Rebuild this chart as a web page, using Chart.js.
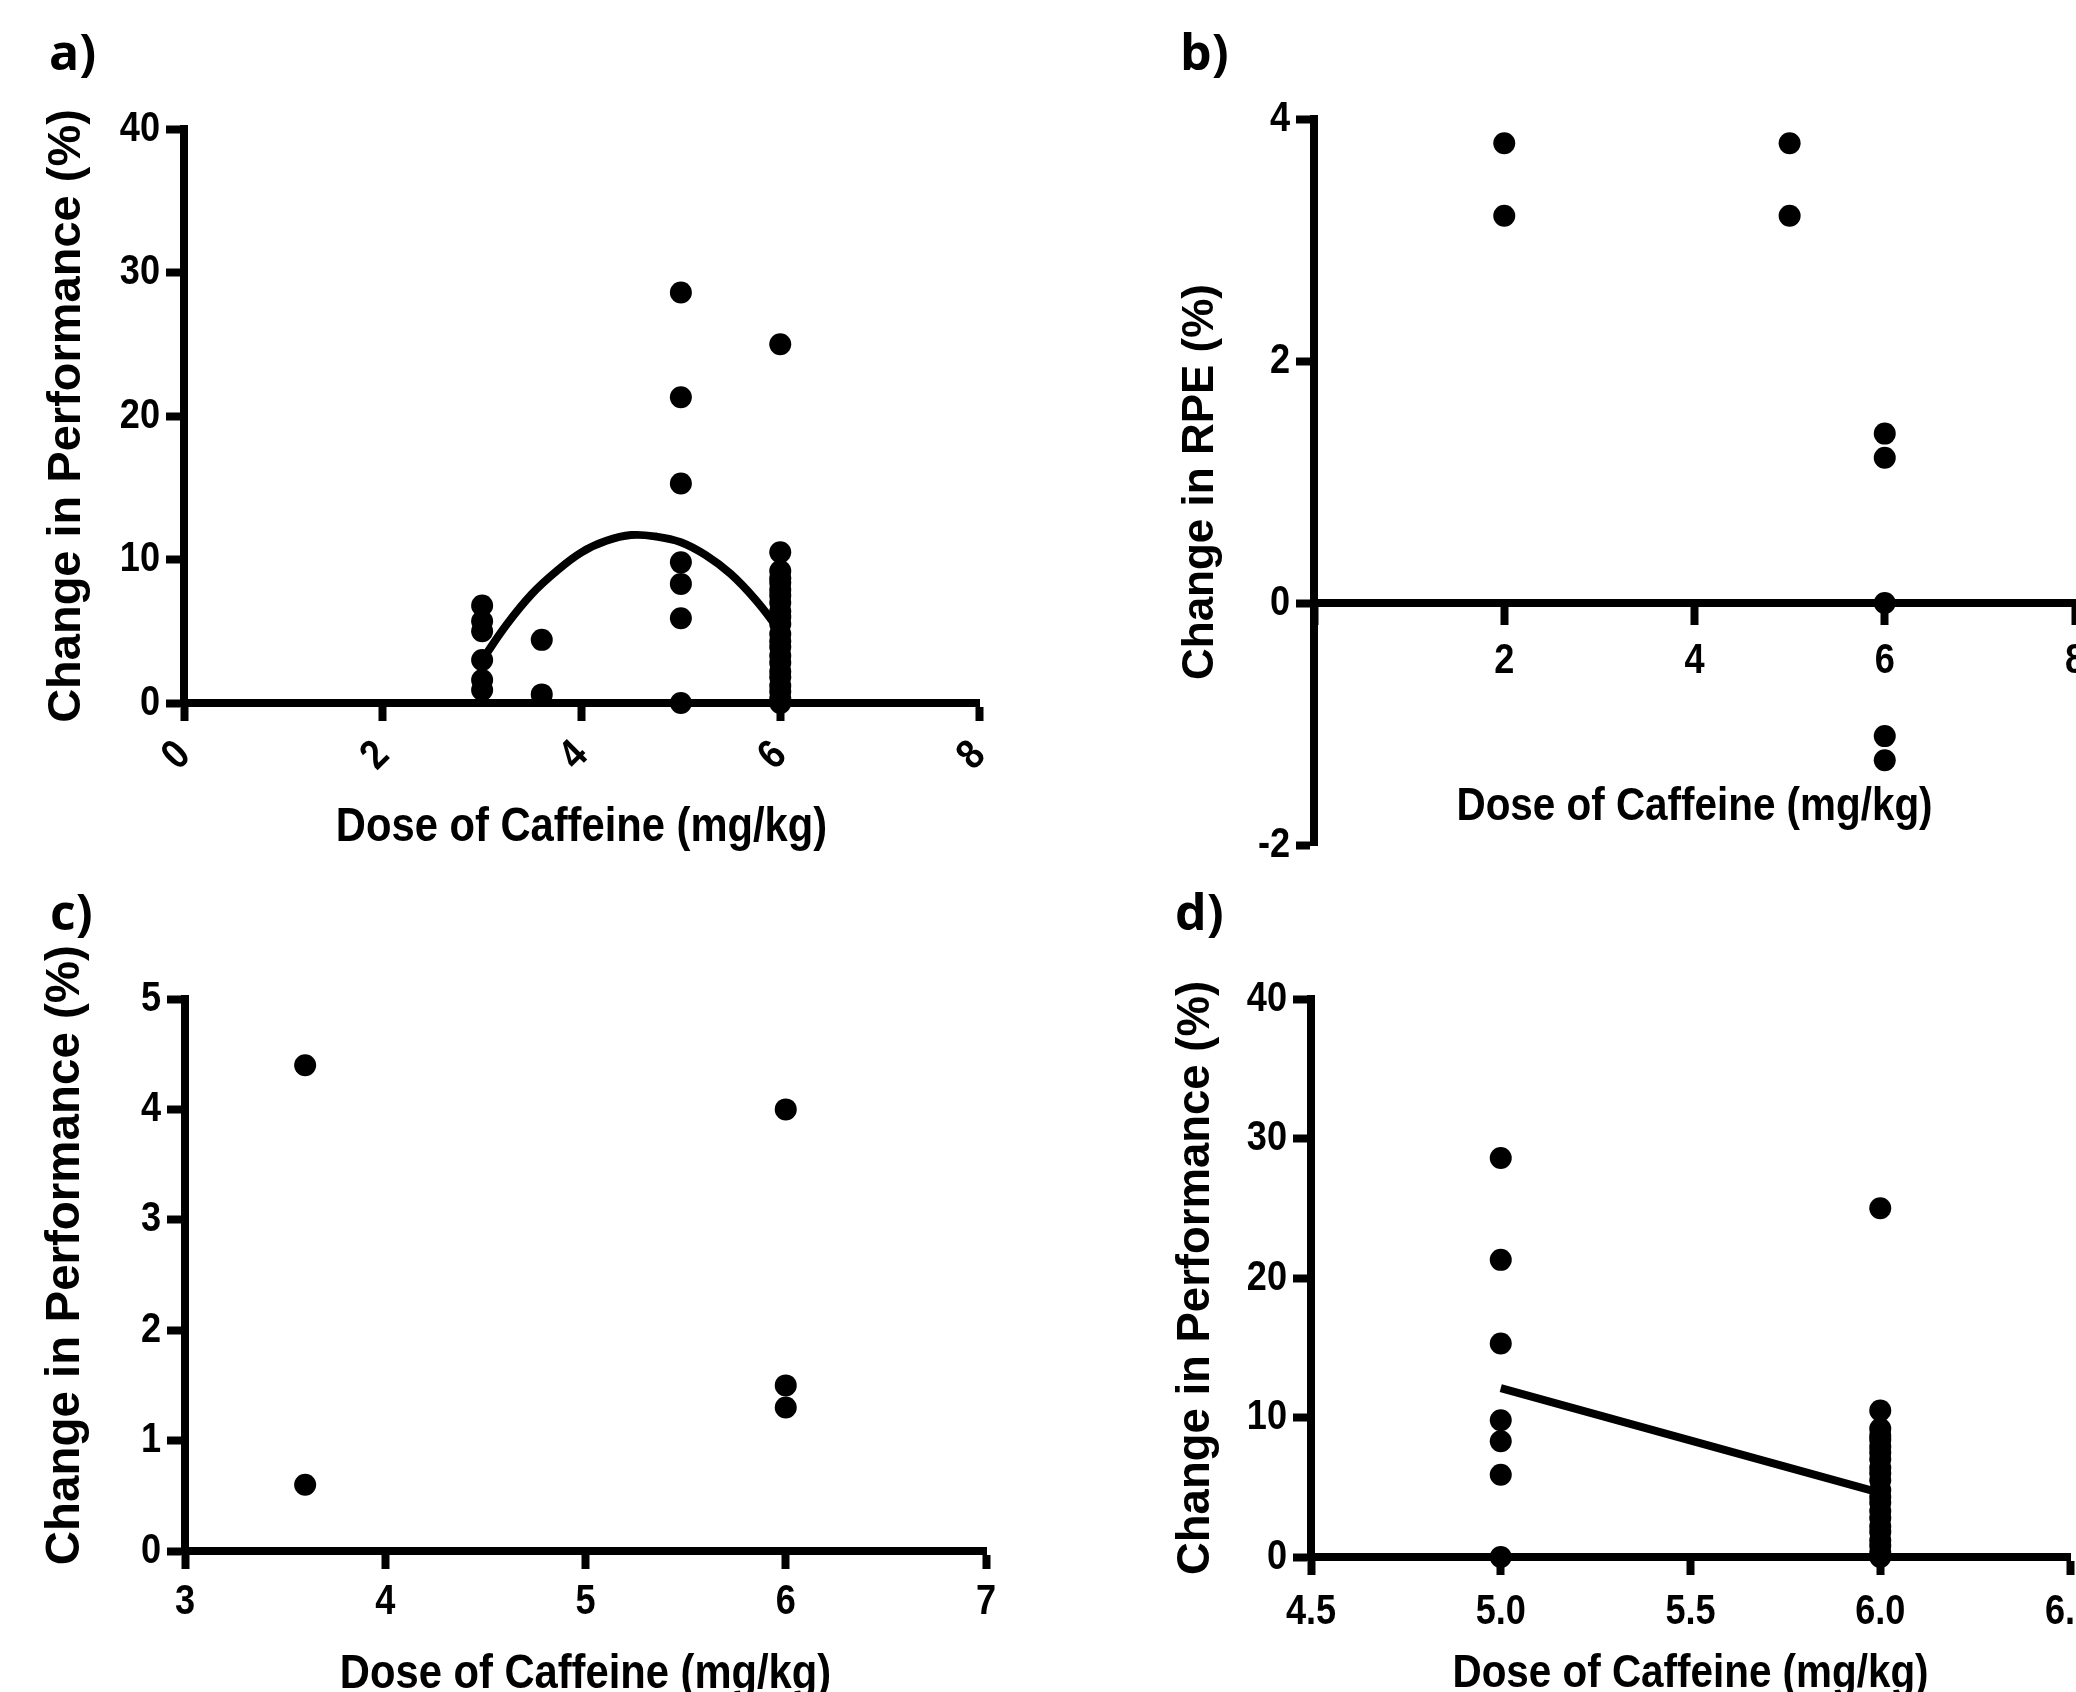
<!DOCTYPE html>
<html>
<head>
<meta charset="utf-8">
<script src="https://cdn.jsdelivr.net/npm/chart.js@4.4.1/dist/chart.umd.min.js"></script>
<style>
  html, body { margin: 0; padding: 0; background: #fff; width: 2076px; height: 1692px; overflow: hidden; position: relative; }
  canvas { position: absolute; }
  .tag { position: absolute; font: 700 50px "Open Sans", "Liberation Sans", sans-serif; line-height: 50px; color: #000; }
</style>
</head>
<body>
<div class="tag" style="left:49px;top:26px">a)</div>
<div class="tag" style="left:1180px;top:26px">b)</div>
<div class="tag" style="left:50px;top:886px">c)</div>
<div class="tag" style="left:1175px;top:886px">d)</div>

<canvas id="panelA" width="1040" height="860" style="left:0;top:0"></canvas>
<canvas id="panelB" width="1100" height="880" style="left:1040px;top:0"></canvas>
<canvas id="panelC" width="1040" height="860" style="left:0;top:860px"></canvas>
<canvas id="panelD" width="1100" height="860" style="left:1040px;top:860px"></canvas>

<script>
// change in performance (%) per dose (mg/kg), panels a and d
const perfAt3 = [6.8, 5.7, 5.0, 3.0, 1.6, 0.9];
const perfAt36 = [4.4, 0.6];
const perfAt5 = [28.6, 21.3, 15.3, 9.8, 8.3, 5.9, 0];
const perfAt6 = [25.0, 10.5, 9.2, 8.7, 8.4, 7.9, 7.5, 7.0, 6.4, 6.0, 5.5, 4.8, 4.3, 3.9, 3.3, 2.8, 2.2, 1.8, 1.2, 0.8, 0.3, 0];

// fitted curve in a
const fitDoseA = [3.0, 3.25, 3.5, 3.75, 4.0, 4.25, 4.5, 4.75, 5.0, 5.25, 5.5, 5.75, 6.0];
const fitPerfA = [3.0, 5.5, 7.6, 9.2, 10.5, 11.3, 11.7, 11.6, 11.2, 10.3, 9.0, 7.2, 5.0];

// change in RPE (%), panel b
const rpeAt2 = [3.8, 3.2];
const rpeAt5 = [3.8, 3.2];
const rpeAt6 = [1.4, 1.2, 0, -1.1, -1.3];

// panel c
const perfCAt36 = [4.4, 0.6];
const perfCAt6 = [4.0, 1.5, 1.3];

// fitted line in d
const fitDoseD = [5.0, 6.0];
const fitPerfD = [12.1, 4.6];

// ticks
const ticksXA = [0, 2, 4, 6, 8];
const ticksYA = [0, 10, 20, 30, 40];
const ticksXB = [0, 2, 4, 6, 8];
const labelsXB = ["", "2", "4", "6", "8"];
const ticksYB = [-2, 0, 2, 4];
const ticksXC = [3, 4, 5, 6, 7];
const ticksYC = [0, 1, 2, 3, 4, 5];
const ticksXD = [4.5, 5.0, 5.5, 6.0, 6.5];
const labelsXD = ["4.5", "5.0", "5.5", "6.0", "6.5"];
const ticksYD = [0, 10, 20, 30, 40];

const doseTitle = "Dose of Caffeine (mg/kg)";
const perfTitle = "Change in Performance (%)";
const rpeTitle = "Change in RPE (%)";

// no narrow font installed: the "Arial Narrow" text is squeezed by the plugin below
const narrow = '"Arial Narrow", "Liberation Sans", Arial, sans-serif';
const wide = '"Liberation Sans", Arial, sans-serif';
const squeeze = 0.86;

const condense = {
  id: "condense",
  beforeDraw(chart) {
    const ctx = chart.ctx;
    if (ctx._condensed) return;
    const fill = ctx.fillText.bind(ctx);
    ctx.fillText = (text, x, y) => {
      if (!ctx.font.includes("Narrow")) return fill(text, x, y);
      ctx.save();
      ctx.translate(x, y);
      ctx.scale(squeeze, 1);
      fill(text, 0, 0);
      ctx.restore();
    };
    ctx._condensed = true;
  }
};

const pts = (x, ys) => ys.map((y) => ({ x, y }));
const pairs = (xs, ys) => xs.map((x, i) => ({ x, y: ys[i] }));

function dots(data) {
  return { data, pointRadius: 11, pointHoverRadius: 11, pointBackgroundColor: "#000", pointBorderWidth: 0, clip: false };
}

function fitLine(data, tension) {
  return { data, showLine: true, pointRadius: 0, borderColor: "#000", borderWidth: 8, tension, clip: false, fill: false };
}

function axis(o) {
  const horizontal = o.horizontal;
  return {
    type: "linear",
    min: o.min,
    max: o.max,
    position: o.position,
    border: { display: true, color: "#000", width: 8 },
    grid: { display: true, drawOnChartArea: false, drawTicks: true, tickLength: 18, tickWidth: 8, tickColor: "#000" },
    ticks: {
      color: "#000",
      font: { family: narrow, weight: "bold", size: 42, lineHeight: 1 },
      padding: o.tickPad,
      autoSkip: false,
      minRotation: o.rot || 0,
      maxRotation: o.rot || 0,
      callback: (v, i) => (o.labels ? o.labels[i] : String(v))
    },
    title: {
      display: true,
      text: o.title,
      color: "#000",
      font: { family: horizontal ? narrow : wide, weight: "bold", size: o.titleSize, lineHeight: 1 },
      padding: o.titlePad
    },
    afterBuildTicks: (s) => { s.ticks = o.ticks.map((value) => ({ value })); },
    afterFit: (s) => {
      if (horizontal) s.height = o.size; else s.width = o.size;
      s.paddingLeft = 0; s.paddingRight = 0; s.paddingTop = 0; s.paddingBottom = 0;
    }
  };
}

function panel(id, padding, x, y, datasets) {
  return new Chart(document.getElementById(id), {
    type: "scatter",
    data: { datasets },
    options: {
      responsive: false,
      animation: false,
      devicePixelRatio: 1,
      layout: { padding },
      plugins: { legend: { display: false }, tooltip: { enabled: false } },
      scales: { x, y }
    },
    plugins: [condense]
  });
}

panel("panelA",
  { left: 0, top: 129, right: 61, bottom: 0 },
  axis({ horizontal: true, position: "bottom", min: 0, max: 8, ticks: ticksXA, rot: 45, size: 157, tickPad: 13,
         title: doseTitle, titleSize: 48.5, titlePad: { top: 0, bottom: 8.5 } }),
  axis({ position: "left", min: 0, max: 40, ticks: ticksYA, size: 184, tickPad: 6,
         title: perfTitle, titleSize: 47, titlePad: { top: 43.5, bottom: 0 } }),
  [
    dots([...pts(3, perfAt3), ...pts(3.6, perfAt36), ...pts(5, perfAt5), ...pts(6, perfAt6)]),
    fitLine(pairs(fitDoseA, fitPerfA), 0.4)
  ]
);

panel("panelB",
  { left: 0, top: 119, right: 65, bottom: 35 },
  axis({ horizontal: true, position: { y: 0 }, min: 0, max: 8, ticks: ticksXB, labels: labelsXB, size: 228, tickPad: 19,
         title: doseTitle, titleSize: 47, titlePad: { top: 0, bottom: 0 } }),
  axis({ position: "left", min: -2, max: 4, ticks: ticksYB, size: 274, tickPad: 6,
         title: rpeTitle, titleSize: 44, titlePad: { top: 139, bottom: 0 } }),
  [dots([...pts(2, rpeAt2), ...pts(5, rpeAt5), ...pts(6, rpeAt6)])]
);

// leading spaces lift the rotated title, as it sits higher in the original
panel("panelC",
  { left: 0, top: 139, right: 54, bottom: 0 },
  axis({ horizontal: true, position: "bottom", min: 3, max: 7, ticks: ticksXC, size: 169, tickPad: 12,
         title: doseTitle, titleSize: 48.5, titlePad: { top: 0, bottom: 21.5 } }),
  axis({ position: "left", min: 0, max: 5, ticks: ticksYC, size: 185, tickPad: 6,
         title: "   " + perfTitle, titleSize: 47.5, titlePad: { top: 42.25, bottom: 0 } }),
  [dots([...pts(3.6, perfCAt36), ...pts(6, perfCAt6)])]
);

panel("panelD",
  { left: 0, top: 139, right: 70, bottom: 0 },
  axis({ horizontal: true, position: "bottom", min: 4.5, max: 6.5, ticks: ticksXD, labels: labelsXD, size: 163, tickPad: 16,
         title: doseTitle, titleSize: 47, titlePad: { top: 0, bottom: 22.5 } }),
  axis({ position: "left", min: 0, max: 40, ticks: ticksYD, size: 271, tickPad: 6,
         title: perfTitle, titleSize: 45.5, titlePad: { top: 133.25, bottom: 0 } }),
  [
    dots([...pts(5, perfAt5), ...pts(6, perfAt6)]),
    fitLine(pairs(fitDoseD, fitPerfD), 0)
  ]
);
</script>
</body>
</html>
